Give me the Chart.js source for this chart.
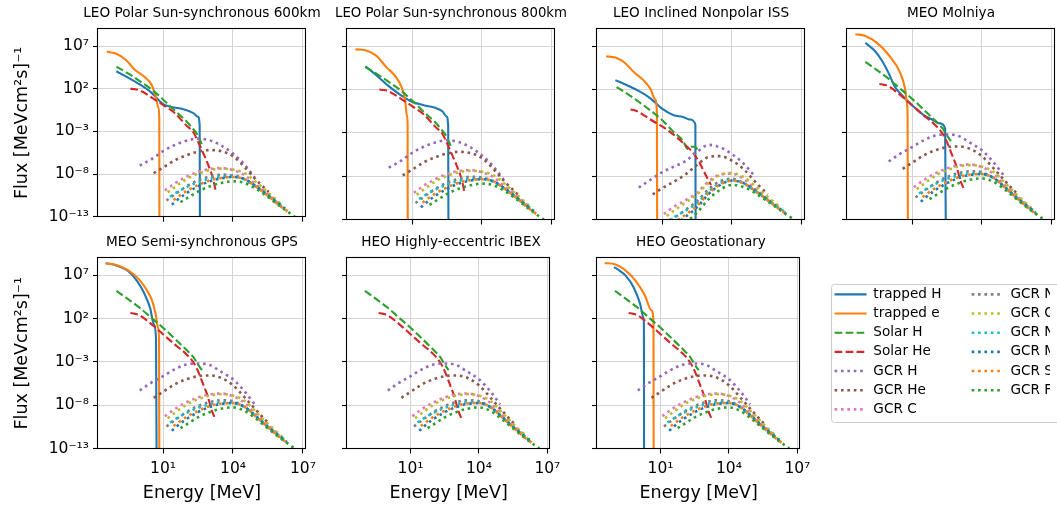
<!DOCTYPE html>
<html>
<head>
<meta charset="utf-8">
<title>Flux spectra per orbit</title>
<script src="https://cdn.jsdelivr.net/npm/chart.js@4.4.1/dist/chart.umd.min.js"></script>
<style>
  html, body { margin: 0; padding: 0; background: #ffffff; }
  #figure { position: relative; width: 1057px; height: 505px; overflow: hidden; background: #ffffff; }
  #figure canvas { position: absolute; }
</style>
</head>
<body>
<div id="figure"></div>
<script>
// ---------------- DATA ----------------
const panelTitles = ['LEO Polar Sun-synchronous 600km', 'LEO Polar Sun-synchronous 800km', 'LEO Inclined Nonpolar ISS', 'MEO Molniya', 'MEO Semi-synchronous GPS', 'HEO Highly-eccentric IBEX', 'HEO Geostationary'];
const seriesNames = ['trapped H', 'trapped e', 'Solar H', 'Solar He', 'GCR H', 'GCR He', 'GCR C', 'GCR N', 'GCR O', 'GCR Ne', 'GCR Mg', 'GCR Si', 'GCR Fe'];

const xTickValues = [1e1, 1e4, 1e7];
const xTickLabels = ['10¹', '10⁴', '10⁷'];
const yTickValues = [1e-13, 1e-8, 1e-3, 1e2, 1e7];
const yTickLabels = ['10⁻¹³', '10⁻⁸', '10⁻³', '10²', '10⁷'];
const xAxisTitle = 'Energy [MeV]';
const yAxisTitle = 'Flux [MeVcm²s]⁻¹';

// trapped particles (energy in MeV, flux)
const leo600TrappedHEnergy = [0.1, 0.316, 1, 3.16, 10, 20, 63, 200, 316, 372, 390];
const leo600TrappedHFlux = [1.12e4, 2.0e3, 316, 35.5, 1.58, 0.794, 0.447, 0.141, 0.0501, 6.31e-3, 1e-25];
const leo600TrappedEEnergy = [0.0389, 0.1, 0.251, 0.631, 1.58, 3.16, 5.01, 6.31, 6.92, 7.08];
const leo600TrappedEFlux = [2.24e6, 1.26e6, 2.51e5, 1.58e4, 2.51e3, 316, 10, 0.631, 0.0316, 1e-25];

const leo800TrappedHEnergy = [0.1, 0.316, 1, 3.16, 10, 31.6, 100, 200, 302, 355, 372];
const leo800TrappedHFlux = [5.01e4, 3.98e3, 251, 25.1, 3.98, 1.58, 0.794, 0.316, 0.0794, 6.31e-3, 1e-25];
const leo800TrappedEEnergy = [0.0372, 0.1, 0.282, 0.794, 2.0, 3.55, 5.01, 6.03, 6.46, 6.61];
const leo800TrappedEFlux = [4.47e6, 3.55e6, 8.91e5, 3.98e4, 3.16e3, 200, 7.94, 0.1, 0.01, 1e-25];

const issTrappedHEnergy = [0.1, 0.316, 1, 3.16, 10, 31.6, 79.4, 158, 269, 282];
const issTrappedHFlux = [1.26e3, 316, 70.8, 10, 0.631, 0.112, 0.0708, 0.0355, 0.01, 1e-25];
const issTrappedEEnergy = [0.0398, 0.1, 0.251, 0.631, 1.58, 3.16, 5.01, 6.03, 6.31];
const issTrappedEFlux = [7.08e5, 5.01e5, 1.26e5, 1e4, 1.26e3, 126, 7.94, 0.2, 1e-25];

const molniyaTrappedHEnergy = [0.1, 0.251, 0.501, 1, 1.78, 3.16, 10, 31.6, 79.4, 158, 263, 295];
const molniyaTrappedHFlux = [2.51e7, 3.16e6, 2.51e5, 7.94e3, 251, 35.5, 1.58, 0.112, 0.0316, 0.0126, 3.16e-3, 1e-25];
const molniyaTrappedEEnergy = [0.0372, 0.1, 0.316, 1, 3.16, 5.01, 6.03, 6.46, 6.76];
const molniyaTrappedEFlux = [2.51e8, 1.58e8, 2.51e7, 1e6, 7.94e3, 126, 3.16, 0.0631, 1e-25];

const gpsTrappedHEnergy = [0.0347, 0.1, 0.316, 0.794, 1.58, 2.82, 3.98, 5.01, 5.5];
const gpsTrappedHFlux = [2.51e8, 1.41e8, 3.16e7, 2.0e6, 7.94e4, 1.58e3, 25.1, 0.501, 1e-25];
const gpsTrappedEEnergy = [0.0347, 0.1, 0.316, 1, 2.0, 3.16, 4.79, 6.03, 6.76, 7.08];
const gpsTrappedEFlux = [2.51e8, 1.58e8, 3.98e7, 2.82e6, 2.0e5, 2.0e4, 398, 10, 0.316, 1e-25];

const geoTrappedHEnergy = [0.0912, 0.158, 0.288, 0.646, 1.26, 1.74, 1.86, 1.91];
const geoTrappedHFlux = [9.12e7, 3.55e7, 1e7, 4.47e5, 5.37e3, 155, 15.8, 1e-25];
const geoTrappedEEnergy = [0.0355, 0.1, 0.288, 0.776, 2.04, 3.98, 4.9, 5.01];
const geoTrappedEFlux = [2.63e8, 1.86e8, 3.8e7, 2.63e6, 4.9e4, 912, 39.8, 1e-25];

// solar particles
const polarSolarHEnergy = [0.1, 0.316, 1, 3.16, 10, 31.6, 100, 200, 316, 457];
const polarSolarHFlux = [3.98e4, 6.31e3, 794, 89.1, 5.62, 0.282, 0.0158, 1.78e-3, 3.16e-4, 3.16e-5];
const polarSolarHeEnergy = [0.398, 0.631, 1, 3.16, 10, 31.6, 100, 200, 316, 562, 891, 1413, 1778];
const polarSolarHeFlux = [100, 89.1, 63.1, 10, 1.26, 0.141, 5.01e-3, 7.94e-4, 6.31e-5, 2.0e-6, 1e-7, 2.51e-9, 1.26e-10];

const issSolarHEnergy = [0.112, 0.316, 1, 3.16, 10, 31.6, 79.4, 126, 178, 251, 355];
const issSolarHFlux = [200, 35.5, 3.98, 0.398, 0.0316, 1.26e-3, 1.26e-4, 1.41e-5, 2.51e-5, 2.51e-5, 1e-5];
const issSolarHeEnergy = [0.447, 0.708, 1.78, 3.16, 10, 31.6, 100, 200, 398, 794, 1259];
const issSolarHeFlux = [0.501, 0.398, 0.1, 0.0355, 5.62e-3, 6.31e-4, 3.98e-5, 6.31e-6, 3.98e-7, 1e-8, 1e-9];

const freeSolarHEnergy = [0.1, 0.316, 1, 3.16, 10, 31.6, 100, 200, 316, 468];
const freeSolarHFlux = [1.58e5, 1.78e4, 1.78e3, 126, 8.91, 0.501, 0.0251, 3.55e-3, 5.01e-4, 1.12e-4];
const freeSolarHeEnergy = [0.398, 0.631, 1, 3.16, 10, 31.6, 100, 200, 316, 501, 794, 1259, 1660];
const freeSolarHeFlux = [447, 355, 240, 23.4, 1.58, 0.107, 7.94e-3, 8.71e-4, 8.71e-5, 3.72e-6, 1.48e-7, 2.09e-9, 3.55e-10];

// galactic cosmic rays: energies per species, fluxes for free space / polar LEO / ISS
const gcrHEnergy = [1, 3.16, 10, 31.6, 100, 316, 1000, 3160, 1e4, 3.16e4, 8.51e4];
const gcrHFluxFree = [5.01e-7, 3.98e-6, 2.24e-5, 1.41e-4, 5.01e-4, 6.61e-4, 4.47e-4, 7.08e-5, 1e-5, 3.98e-7, 1.26e-8];
const gcrHFluxPolar = [1e-7, 5.37e-7, 4.79e-6, 2.51e-5, 7.94e-5, 1.41e-4, 8.91e-5, 2.24e-5, 2.51e-6, 1.26e-7, 3.98e-9];
const gcrHFluxIss = [5.01e-10, 3.8e-9, 2.82e-8, 1.26e-7, 5.62e-7, 6.31e-6, 4.17e-5, 2.09e-5, 3.55e-6, 2.82e-7, 1.41e-8];

const gcrHeEnergy = [3.98, 10, 31.6, 100, 316, 1000, 3160, 1e4, 3.16e4, 1e5, 3.39e5];
const gcrHeFluxFree = [7.08e-8, 3.55e-7, 2.51e-6, 1e-5, 2.24e-5, 2.75e-5, 1.41e-5, 2.0e-6, 7.94e-8, 2.51e-9, 7.94e-11];
const gcrHeFluxPolar = [1.26e-8, 5.62e-8, 3.98e-7, 1.58e-6, 4.17e-6, 6.46e-6, 4.79e-6, 1.26e-6, 6.31e-8, 2.0e-9, 7.94e-11];
const gcrHeFluxIss = [7.94e-11, 3.98e-10, 2.24e-9, 1.58e-8, 2.0e-7, 1.7e-6, 2.09e-6, 6.31e-7, 6.31e-8, 2.24e-9, 7.94e-11];

const gcrCEnergy = [12, 31.6, 100, 316, 1000, 3160, 1e4, 3.16e4, 1e5, 3.16e5, 1e6];
const gcrCFluxFree = [5.37e-10, 3.55e-9, 2.09e-8, 7.94e-8, 1.78e-7, 2.24e-7, 1.12e-7, 1.86e-8, 7.94e-10, 5.01e-11, 3.16e-12];
const gcrCFluxPolar = [1.2e-10, 7.94e-10, 4.68e-9, 1.78e-8, 3.98e-8, 5.01e-8, 2.82e-8, 7.41e-9, 5.62e-10, 5.01e-11, 3.16e-12];
const gcrCFluxIss = [4.27e-13, 2.82e-12, 1.66e-11, 1.26e-10, 2.51e-9, 1.58e-8, 2.0e-8, 4.68e-9, 3.55e-10, 3.55e-11, 2.82e-12];

const gcrNEnergy = [14.1, 31.6, 100, 316, 1000, 3160, 1e4, 3.16e4, 1e5, 3.16e5, 1.2e6];
const gcrNFluxFree = [3.55e-11, 1.78e-10, 1.58e-9, 7.94e-9, 2.24e-8, 3.8e-8, 2.82e-8, 6.31e-9, 4.47e-10, 3.16e-11, 1.78e-12];
const gcrNFluxPolar = [7.94e-12, 3.98e-11, 3.55e-10, 1.78e-9, 5.01e-9, 8.51e-9, 7.08e-9, 2.51e-9, 3.16e-10, 3.16e-11, 1.78e-12];
const gcrNFluxIss = [2.82e-14, 1.41e-13, 1.26e-12, 1.26e-11, 3.16e-10, 2.69e-9, 5.01e-9, 1.58e-9, 2.0e-10, 2.24e-11, 1.58e-12];

const gcrOEnergy = [15.8, 31.6, 100, 316, 1000, 3160, 1e4, 3.16e4, 1e5, 3.16e5, 1.35e6];
const gcrOFluxFree = [3.16e-10, 1.26e-9, 1.12e-8, 5.01e-8, 1.26e-7, 1.91e-7, 1.32e-7, 3.16e-8, 1.58e-9, 7.08e-11, 2.0e-12];
const gcrOFluxPolar = [7.08e-11, 2.82e-10, 2.51e-9, 1.12e-8, 2.82e-8, 4.27e-8, 3.31e-8, 1.26e-8, 1.12e-9, 7.08e-11, 2.0e-12];
const gcrOFluxIss = [2.51e-13, 1e-12, 8.91e-12, 7.94e-11, 1.78e-9, 1.35e-8, 2.34e-8, 7.94e-9, 7.08e-10, 5.01e-11, 1.78e-12];

const gcrNeEnergy = [20, 31.6, 100, 316, 1000, 3160, 1e4, 3.16e4, 1e5, 3.16e5, 1.7e6];
const gcrNeFluxFree = [1e-10, 2.24e-10, 1.26e-9, 5.01e-9, 1.26e-8, 2.24e-8, 2.0e-8, 5.62e-9, 4.47e-10, 2.82e-11, 1e-12];
const gcrNeFluxPolar = [2.24e-11, 5.01e-11, 2.82e-10, 1.12e-9, 2.82e-9, 5.01e-9, 5.01e-9, 2.24e-9, 3.16e-10, 2.82e-11, 1e-12];
const gcrNeFluxIss = [7.94e-14, 1.78e-13, 1e-12, 7.94e-12, 1.78e-10, 1.58e-9, 3.55e-9, 1.41e-9, 2.0e-10, 2.0e-11, 8.91e-13];

const gcrMgEnergy = [24, 31.6, 100, 316, 1000, 3160, 1e4, 3.16e4, 1e5, 3.16e5, 2.04e6];
const gcrMgFluxFree = [1.12e-11, 2.24e-11, 2.51e-10, 1.58e-9, 6.31e-9, 1.41e-8, 1.78e-8, 6.31e-9, 5.01e-10, 3.16e-11, 5.62e-13];
const gcrMgFluxPolar = [2.51e-12, 5.01e-12, 5.62e-11, 3.55e-10, 1.41e-9, 3.16e-9, 4.47e-9, 2.51e-9, 3.55e-10, 3.16e-11, 5.62e-13];
const gcrMgFluxIss = [8.91e-15, 1.78e-14, 2.0e-13, 2.51e-12, 8.91e-11, 1e-9, 3.16e-9, 1.58e-9, 2.24e-10, 2.24e-11, 5.01e-13];

const gcrSiEnergy = [28.2, 100, 316, 1000, 3160, 1e4, 3.16e4, 1e5, 3.16e5, 1e6, 2.4e6];
const gcrSiFluxFree = [3.98e-11, 4.47e-10, 2.24e-9, 7.94e-9, 1.58e-8, 1.78e-8, 6.31e-9, 4.47e-10, 2.82e-11, 2.0e-12, 3.55e-13];
const gcrSiFluxPolar = [8.91e-12, 1e-10, 5.01e-10, 1.78e-9, 3.55e-9, 4.47e-9, 2.51e-9, 3.16e-10, 2.82e-11, 2.0e-12, 3.55e-13];
const gcrSiFluxIss = [3.16e-14, 3.55e-13, 3.55e-12, 1.12e-10, 1.12e-9, 3.16e-9, 1.58e-9, 2.0e-10, 2.0e-11, 1.78e-12, 3.55e-13];

const gcrFeEnergy = [56.2, 100, 316, 1000, 3160, 1e4, 3.16e4, 1e5, 3.16e5, 1e6, 4.47e6];
const gcrFeFluxFree = [2.24e-11, 5.89e-11, 3.98e-10, 1.58e-9, 3.98e-9, 5.62e-9, 2.24e-9, 2.51e-10, 2.0e-11, 1.78e-12, 1e-13];
const gcrFeFluxPolar = [5.01e-12, 1.32e-11, 8.91e-11, 3.55e-10, 8.91e-10, 1.41e-9, 8.91e-10, 1.78e-10, 2.0e-11, 1.78e-12, 1e-13];
const gcrFeFluxIss = [1.78e-14, 4.68e-14, 6.31e-13, 2.24e-11, 2.82e-10, 1e-9, 5.62e-10, 1.12e-10, 1.41e-11, 1.58e-12, 1e-13];

// ---------------- STYLE ----------------
const seriesColors = ['#1f77b4', '#ff7f0e', '#2ca02c', '#d62728', '#9467bd', '#8c564b', '#e377c2', '#7f7f7f', '#bcbd22', '#17becf', '#1f77b4', '#ff7f0e', '#2ca02c'];
const DASHED = [7.7, 3.3];
const DOTTED = [2.6, 3.8];
const seriesDash = [[], [], DASHED, DASHED, DOTTED, DOTTED, DOTTED, DOTTED, DOTTED, DOTTED, DOTTED, DOTTED, DOTTED];
const seriesWidth = [2.1, 2.1, 2.1, 2.1, 2.6, 2.6, 2.6, 2.6, 2.6, 2.6, 2.6, 2.6, 2.6];

// ---------------- ASSEMBLY ----------------
const gcrEnergies = [gcrHEnergy, gcrHeEnergy, gcrCEnergy, gcrNEnergy, gcrOEnergy, gcrNeEnergy, gcrMgEnergy, gcrSiEnergy, gcrFeEnergy];
const gcrFree = [gcrHFluxFree, gcrHeFluxFree, gcrCFluxFree, gcrNFluxFree, gcrOFluxFree, gcrNeFluxFree, gcrMgFluxFree, gcrSiFluxFree, gcrFeFluxFree];
const gcrPolar = [gcrHFluxPolar, gcrHeFluxPolar, gcrCFluxPolar, gcrNFluxPolar, gcrOFluxPolar, gcrNeFluxPolar, gcrMgFluxPolar, gcrSiFluxPolar, gcrFeFluxPolar];
const gcrIss = [gcrHFluxIss, gcrHeFluxIss, gcrCFluxIss, gcrNFluxIss, gcrOFluxIss, gcrNeFluxIss, gcrMgFluxIss, gcrSiFluxIss, gcrFeFluxIss];

const panelSeries = [
  {trappedH: [leo600TrappedHEnergy, leo600TrappedHFlux], trappedE: [leo600TrappedEEnergy, leo600TrappedEFlux], solarH: [polarSolarHEnergy, polarSolarHFlux], solarHe: [polarSolarHeEnergy, polarSolarHeFlux], gcr: gcrPolar},
  {trappedH: [leo800TrappedHEnergy, leo800TrappedHFlux], trappedE: [leo800TrappedEEnergy, leo800TrappedEFlux], solarH: [polarSolarHEnergy, polarSolarHFlux], solarHe: [polarSolarHeEnergy, polarSolarHeFlux], gcr: gcrPolar},
  {trappedH: [issTrappedHEnergy, issTrappedHFlux], trappedE: [issTrappedEEnergy, issTrappedEFlux], solarH: [issSolarHEnergy, issSolarHFlux], solarHe: [issSolarHeEnergy, issSolarHeFlux], gcr: gcrIss},
  {trappedH: [molniyaTrappedHEnergy, molniyaTrappedHFlux], trappedE: [molniyaTrappedEEnergy, molniyaTrappedEFlux], solarH: [freeSolarHEnergy, freeSolarHFlux], solarHe: [freeSolarHeEnergy, freeSolarHeFlux], gcr: gcrFree},
  {trappedH: [gpsTrappedHEnergy, gpsTrappedHFlux], trappedE: [gpsTrappedEEnergy, gpsTrappedEFlux], solarH: [freeSolarHEnergy, freeSolarHFlux], solarHe: [freeSolarHeEnergy, freeSolarHeFlux], gcr: gcrFree},
  {trappedH: null, trappedE: null, solarH: [freeSolarHEnergy, freeSolarHFlux], solarHe: [freeSolarHeEnergy, freeSolarHeFlux], gcr: gcrFree},
  {trappedH: [geoTrappedHEnergy, geoTrappedHFlux], trappedE: [geoTrappedEEnergy, geoTrappedEFlux], solarH: [freeSolarHEnergy, freeSolarHFlux], solarHe: [freeSolarHeEnergy, freeSolarHeFlux], gcr: gcrFree}
];

// layout (pixels)
const panelBoxes = [
  {plotLeft: 98, plotTop: 29, row: 0, col: 0},
  {plotLeft: 347, plotTop: 29, row: 0, col: 1},
  {plotLeft: 597, plotTop: 29, row: 0, col: 2},
  {plotLeft: 847, plotTop: 29, row: 0, col: 3},
  {plotLeft: 98, plotTop: 258, row: 1, col: 0},
  {plotLeft: 347, plotTop: 258, row: 1, col: 1},
  {plotLeft: 597, plotTop: 258, row: 1, col: 2}
];
const PLOT_W = 208, PLOT_H = 190.5;
const TITLE_FONT = 13.6, TITLE_PAD_TOP = 5.3, TITLE_PAD_BOTTOM = 7.4;
const TITLE_H = TITLE_PAD_TOP + TITLE_FONT * 1.2 + TITLE_PAD_BOTTOM;
const AXIS_TITLE_FONT = 17.5;
const TICK_FONT = 15.5;
const X_MIN = 0.0163, X_MAX = 1.35e7, Y_MIN = 1e-13, Y_MAX = 1e9;

Chart.defaults.font.family = "'DejaVu Sans', 'Liberation Sans', sans-serif";
Chart.defaults.color = '#000000';

const framePlugin = {
  id: 'axesFrame',
  afterDatasetsDraw(chart) {
    const a = chart.chartArea, ctx = chart.ctx;
    const l = Math.round(a.left) - 0.5, t = Math.round(a.top) - 0.5;
    const r = Math.round(a.right) - 0.5, b = Math.round(a.bottom) - 0.5;
    ctx.save();
    ctx.strokeStyle = '#000000';
    ctx.lineWidth = 1.1;
    ctx.strokeRect(l, t, r - l, b - t);
    ctx.restore();
  }
};

function toPoints(energy, flux) {
  return energy.map((e, i) => ({x: e, y: flux[i]}));
}

function makeDataset(idx, energy, flux) {
  return {
    label: seriesNames[idx],
    data: toPoints(energy, flux),
    borderColor: seriesColors[idx],
    backgroundColor: seriesColors[idx],
    borderWidth: seriesWidth[idx],
    borderDash: seriesDash[idx],
    pointRadius: 0,
    pointHoverRadius: 0,
    fill: false,
    cubicInterpolationMode: 'monotone',
    order: 100 - idx
  };
}

const fig = document.getElementById('figure');

panelBoxes.forEach((box, p) => {
  const M = box.col === 0 ? 98 : 12;
  const canvasH = box.row === 0 ? 230 : 280;
  const bottomH = canvasH - TITLE_H - PLOT_H;
  const canvas = document.createElement('canvas');
  canvas.width = PLOT_W + 2 * M;
  canvas.height = canvasH;
  canvas.style.left = (box.plotLeft - M) + 'px';
  canvas.style.top = (box.plotTop - 29) + 'px';
  canvas.style.width = canvas.width + 'px';
  canvas.style.height = canvasH + 'px';
  fig.appendChild(canvas);

  const s = panelSeries[p];
  const datasets = [];
  if (s.trappedH) datasets.push(makeDataset(0, s.trappedH[0], s.trappedH[1]));
  if (s.trappedE) datasets.push(makeDataset(1, s.trappedE[0], s.trappedE[1]));
  datasets.push(makeDataset(2, s.solarH[0], s.solarH[1]));
  datasets.push(makeDataset(3, s.solarHe[0], s.solarHe[1]));
  for (let g = 0; g < gcrEnergies.length; g++) {
    datasets.push(makeDataset(4 + g, gcrEnergies[g], s.gcr[g]));
  }

  const showX = box.row === 1;
  const showY = box.col === 0;

  new Chart(canvas, {
    type: 'line',
    data: {datasets},
    options: {
      responsive: false,
      animation: false,
      devicePixelRatio: 1,
      events: [],
      layout: {padding: 0},
      elements: {line: {capBezierPoints: false}},
      plugins: {
        legend: {display: false},
        tooltip: {enabled: false},
        title: {
          display: true,
          text: panelTitles[p],
          color: '#000000',
          font: {size: TITLE_FONT, weight: 'normal'},
          padding: {top: TITLE_PAD_TOP, bottom: TITLE_PAD_BOTTOM}
        }
      },
      scales: {
        x: {
          type: 'logarithmic',
          position: 'bottom',
          min: X_MIN,
          max: X_MAX,
          afterBuildTicks: (sc) => { sc.ticks = xTickValues.map(v => ({value: v})); },
          afterFit: (sc) => { sc.height = bottomH; },
          ticks: {
            display: showX,
            autoSkip: false,
            maxRotation: 0,
            minRotation: 0,
            padding: 6.5,
            color: '#000000',
            font: {size: TICK_FONT},
            callback: (v) => { const i = xTickValues.indexOf(v); return i >= 0 ? xTickLabels[i] : ''; }
          },
          grid: {color: '#d4d4d4', lineWidth: 1, drawTicks: true, tickLength: 5, tickColor: '#000000', tickWidth: 1.1},
          border: {display: false},
          title: {display: showX, text: xAxisTitle, color: '#000000', font: {size: AXIS_TITLE_FONT}, padding: {top: 0, bottom: 5.5}}
        },
        y: {
          type: 'logarithmic',
          position: 'left',
          min: Y_MIN,
          max: Y_MAX,
          afterBuildTicks: (sc) => { sc.ticks = yTickValues.map(v => ({value: v})); },
          afterFit: (sc) => { sc.width = M; },
          ticks: {
            display: showY,
            autoSkip: false,
            padding: 4,
            color: '#000000',
            font: {size: TICK_FONT},
            callback: (v) => { const i = yTickValues.indexOf(v); return i >= 0 ? yTickLabels[i] : ''; }
          },
          grid: {color: '#d4d4d4', lineWidth: 1, drawTicks: true, tickLength: 5, tickColor: '#000000', tickWidth: 1.1},
          border: {display: false},
          title: {display: showY, text: yAxisTitle, color: '#000000', font: {size: AXIS_TITLE_FONT}, padding: {top: 11.5, bottom: 0}}
        },
        ySpacer: {
          type: 'linear',
          position: 'right',
          display: true,
          afterFit: (sc) => { sc.width = M; },
          ticks: {display: false},
          grid: {display: false, drawOnChartArea: false, drawTicks: false},
          border: {display: false},
          title: {display: false}
        }
      }
    },
    plugins: [framePlugin]
  });
});

// ---------------- LEGEND ----------------
const LEGEND_FONT = 13.6, LEGEND_PAD = 5.57;
const legendPlugin = {
  id: 'legendFrame',
  beforeDraw(chart) {
    const lg = chart.legend;
    if (lg && lg.columnSizes && lg.columnSizes.length > 1) {
      lg.columnSizes[0].width = 131.5;
    }
    const ctx = chart.ctx;
    const x = 2.5, y = 2.5, w = 700, h = 138, r = 3;
    ctx.save();
    ctx.fillStyle = 'rgba(255,255,255,0.8)';
    ctx.strokeStyle = '#cccccc';
    ctx.lineWidth = 1;
    ctx.beginPath();
    ctx.moveTo(x + r, y);
    ctx.lineTo(x + w - r, y);
    ctx.arcTo(x + w, y, x + w, y + r, r);
    ctx.lineTo(x + w, y + h - r);
    ctx.arcTo(x + w, y + h, x + w - r, y + h, r);
    ctx.lineTo(x + r, y + h);
    ctx.arcTo(x, y + h, x, y + h - r, r);
    ctx.lineTo(x, y + r);
    ctx.arcTo(x, y, x + r, y, r);
    ctx.closePath();
    ctx.fill();
    ctx.stroke();
    ctx.restore();
  }
};

const legendCanvas = document.createElement('canvas');
legendCanvas.width = 600;
legendCanvas.height = 142;
legendCanvas.style.left = '829px';
legendCanvas.style.top = '282px';
legendCanvas.style.width = '600px';
legendCanvas.style.height = '142px';
fig.appendChild(legendCanvas);

new Chart(legendCanvas, {
  type: 'line',
  data: {
    datasets: seriesNames.map((n, i) => ({
      label: n, data: [], borderColor: seriesColors[i], backgroundColor: seriesColors[i],
      borderWidth: seriesWidth[i], borderDash: seriesDash[i], pointRadius: 0
    }))
  },
  options: {
    responsive: false,
    animation: false,
    devicePixelRatio: 1,
    events: [],
    layout: {padding: 0},
    scales: {x: {display: false}, y: {display: false}},
    plugins: {
      tooltip: {enabled: false},
      title: {display: false},
      legend: {
        display: true,
        position: 'left',
        align: 'start',
        labels: {
          usePointStyle: true,
          pointStyle: 'line',
          pointStyleWidth: 32,
          padding: LEGEND_PAD,
          color: '#000000',
          font: {size: LEGEND_FONT},
          generateLabels: (chart) => chart.data.datasets.map((d, i) => ({
            text: d.label,
            fillStyle: d.borderColor,
            strokeStyle: d.borderColor,
            lineWidth: d.borderWidth,
            lineDash: d.borderDash,
            lineCap: 'butt',
            pointStyle: 'line',
            hidden: false,
            datasetIndex: i
          }))
        }
      }
    }
  },
  plugins: [legendPlugin]
});
</script>
</body>
</html>
